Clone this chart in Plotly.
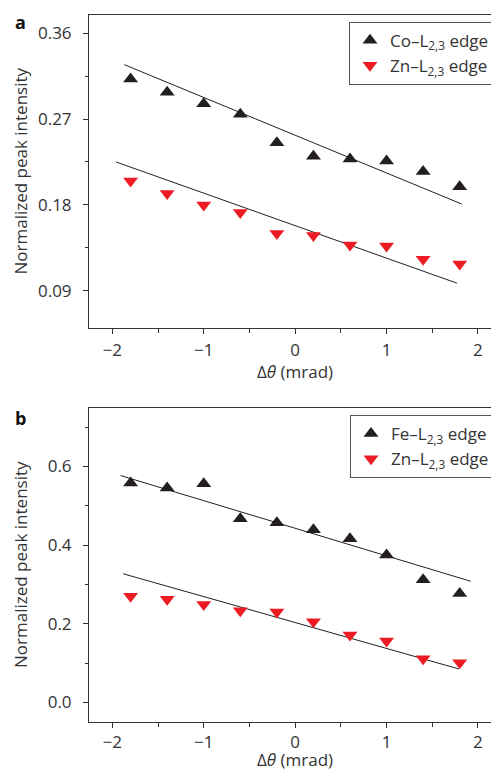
import plotly.graph_objects as go

# ---- data ----
dtheta = [-1.8, -1.4, -1.0, -0.6, -0.2, 0.2, 0.6, 1.0, 1.4, 1.8]

a_co = [0.312, 0.298, 0.286, 0.275, 0.245, 0.231, 0.228, 0.226, 0.215, 0.199]
a_zn = [0.205, 0.192, 0.180, 0.172, 0.150, 0.148, 0.138, 0.137, 0.123, 0.118]
a_co_fit_x = [-1.87, 1.82]
a_co_fit_y = [0.327, 0.181]
a_zn_fit_x = [-1.96, 1.77]
a_zn_fit_y = [0.225, 0.098]

b_fe = [0.558, 0.545, 0.556, 0.467, 0.457, 0.439, 0.416, 0.375, 0.312, 0.277]
b_zn = [0.270, 0.262, 0.249, 0.233, 0.230, 0.205, 0.171, 0.156, 0.111, 0.101]
b_fe_fit_x = [-1.91, 1.92]
b_fe_fit_y = [0.577, 0.308]
b_zn_fit_x = [-1.88, 1.79]
b_zn_fit_y = [0.327, 0.085]

x_ticks = [-2, -1, 0, 1, 2]
a_y_ticks = [0.09, 0.18, 0.27, 0.36]
b_y_ticks = [0.0, 0.2, 0.4, 0.6]

BLACK = "#231f20"
RED = "#ed1c24"
TXT = "#333333"
FONT = "Open Sans"
FS = 17

# page body has an 8px margin: figure drawn at (8, 8) in the window
OFF = 8
W, H = 499 - OFF, 773 - OFF
ML, MR, MT, MB = 89 - OFF, 0, 15 - OFF, 51
PW, PH = W - ML - MR, H - MT - MB


def px_x(p):
    # p is a window-pixel x position
    return (p - OFF - ML) / PW


def px_y(p):
    # p is a window-pixel y position
    return (H - MB - (p - OFF)) / PH


fig = go.Figure()

MS = 13
# panel a
fig.add_trace(go.Scatter(x=a_co_fit_x, y=a_co_fit_y, mode="lines", line=dict(color=BLACK, width=1),
                         showlegend=False, xaxis="x", yaxis="y", hoverinfo="skip"))
fig.add_trace(go.Scatter(x=a_zn_fit_x, y=a_zn_fit_y, mode="lines", line=dict(color=BLACK, width=1),
                         showlegend=False, xaxis="x", yaxis="y", hoverinfo="skip"))
fig.add_trace(go.Scatter(x=dtheta, y=a_co, mode="markers", name="Co–L<sub>2,3</sub> edge",
                         marker=dict(symbol="triangle-up", size=MS, color=BLACK),
                         xaxis="x", yaxis="y", legend="legend"))
fig.add_trace(go.Scatter(x=dtheta, y=a_zn, mode="markers", name="Zn–L<sub>2,3</sub> edge",
                         marker=dict(symbol="triangle-down", size=MS, color=RED),
                         xaxis="x", yaxis="y", legend="legend"))
# panel b
fig.add_trace(go.Scatter(x=b_fe_fit_x, y=b_fe_fit_y, mode="lines", line=dict(color=BLACK, width=1),
                         showlegend=False, xaxis="x2", yaxis="y2", hoverinfo="skip"))
fig.add_trace(go.Scatter(x=b_zn_fit_x, y=b_zn_fit_y, mode="lines", line=dict(color=BLACK, width=1),
                         showlegend=False, xaxis="x2", yaxis="y2", hoverinfo="skip"))
fig.add_trace(go.Scatter(x=dtheta, y=b_fe, mode="markers", name="Fe–L<sub>2,3</sub> edge",
                         marker=dict(symbol="triangle-up", size=MS, color=BLACK),
                         xaxis="x2", yaxis="y2", legend="legend2"))
fig.add_trace(go.Scatter(x=dtheta, y=b_zn, mode="markers", name="Zn–L<sub>2,3</sub> edge",
                         marker=dict(symbol="triangle-down", size=MS, color=RED),
                         xaxis="x2", yaxis="y2", legend="legend2"))

axis_common = dict(showline=True, linecolor=TXT, linewidth=1, ticks="outside", ticklen=5,
                   tickcolor=TXT, tickwidth=1, showgrid=False, zeroline=False, automargin=False,
                   tickfont=dict(family=FONT, size=FS, color=TXT))

xcommon = dict(axis_common, range=[-2.255, 2.23], tickvals=x_ticks, mirror=True,
               ticklabelstandoff=2,
               minor=dict(ticks="outside", ticklen=4, tickcolor=TXT, dtick=0.5, tick0=0, showgrid=False))

top_dom = [px_y(328), 1.0]
bot_dom = [0.0, px_y(408.3)]

legend_common = dict(bordercolor="#555555", borderwidth=1, bgcolor="white",
                     font=dict(family=FONT, size=FS, color=TXT), xanchor="right", yanchor="top",
                     itemwidth=30, tracegroupgap=0)

title_font = dict(family=FONT, size=FS, color=TXT)

fig.update_layout(
    width=W, height=H,
    margin=dict(l=ML, r=MR, t=MT, b=MB),
    paper_bgcolor="white", plot_bgcolor="white",
    showlegend=True,
    xaxis=dict(xcommon, anchor="y", domain=[0, 1]),
    yaxis=dict(axis_common, anchor="x", domain=top_dom, range=[0.051, 0.379], tickvals=a_y_ticks,
               tickformat=".2f", ticklabelstandoff=8,
               minor=dict(ticks="outside", ticklen=3, tickcolor=TXT, dtick=0.045, tick0=0, showgrid=False)),
    xaxis2=dict(xcommon, anchor="y2", domain=[0, 1], ticklabelstandoff=0),
    yaxis2=dict(axis_common, anchor="x2", domain=bot_dom, range=[-0.05, 0.748], tickvals=b_y_ticks,
                tickformat=".1f", ticklabelstandoff=8,
                minor=dict(ticks="outside", ticklen=3, tickcolor=TXT, dtick=0.1, tick0=0, showgrid=False)),
    legend=dict(legend_common, x=px_x(495), y=px_y(21.7)),
    legend2=dict(legend_common, x=px_x(495), y=px_y(415)),
    annotations=[
        dict(text="<b>a</b>", x=px_x(20), y=px_y(22), xref="paper", yref="paper", showarrow=False,
             font=dict(family=FONT, size=18, color="#111111"), xanchor="center", yanchor="middle"),
        dict(text="<b>b</b>", x=px_x(20), y=px_y(418), xref="paper", yref="paper", showarrow=False,
             font=dict(family=FONT, size=18, color="#111111"), xanchor="center", yanchor="middle"),
        dict(text="Normalized peak intensity", textangle=-90, x=px_x(20), y=px_y(171.5),
             xref="paper", yref="paper", showarrow=False, font=title_font,
             xanchor="center", yanchor="middle"),
        dict(text="Normalized peak intensity", textangle=-90, x=px_x(20), y=px_y(565),
             xref="paper", yref="paper", showarrow=False, font=title_font,
             xanchor="center", yanchor="middle"),
        dict(text="Δ<i>θ</i> (mrad)", x=px_x(295), y=px_y(371), xref="paper", yref="paper",
             showarrow=False, font=title_font, xanchor="center", yanchor="middle"),
        dict(text="Δ<i>θ</i> (mrad)", x=px_x(295), y=px_y(773), xref="paper", yref="paper",
             showarrow=False, font=title_font, xanchor="center", yanchor="bottom"),
    ],
)

fig.write_html("out.html")
